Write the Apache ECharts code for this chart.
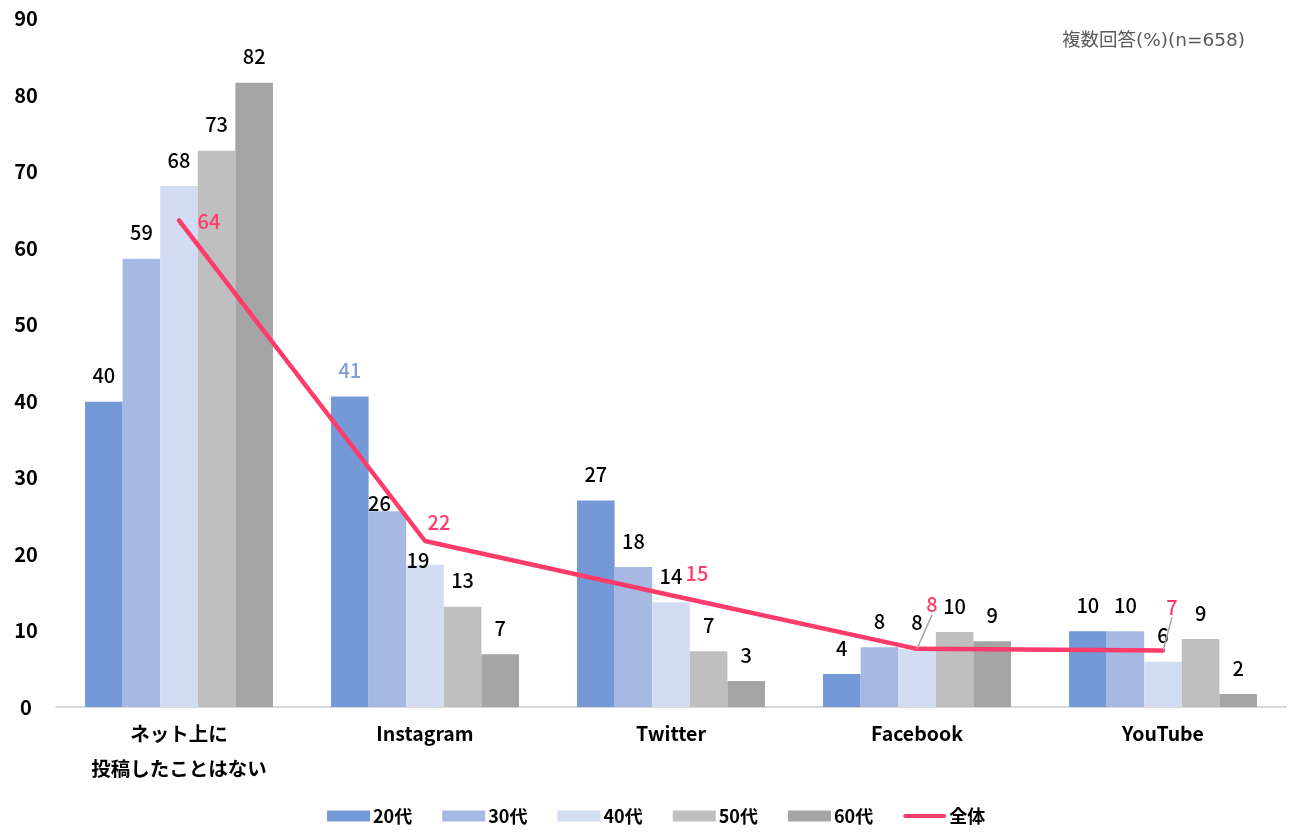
<!DOCTYPE html>
<html>
<head>
<meta charset="utf-8">
<script src="https://cdn.jsdelivr.net/npm/echarts@6/dist/echarts.min.js"></script>
<style>html,body{margin:0;padding:0;background:#fff}#c{width:1293px;height:832px}</style>
</head>
<body>
<div id="c"></div>
<script>
var categories = ['ネット上に\n投稿したことはない', 'Instagram', 'Twitter', 'Facebook', 'YouTube'];
var seriesNames = ['20代', '30代', '40代', '50代', '60代', '全体'];
var s20 = [39.9, 40.6, 27.0, 4.3, 9.9];
var s30 = [58.6, 25.6, 18.3, 7.8, 9.9];
var s40 = [68.1, 18.6, 13.7, 7.6, 5.9];
var s50 = [72.7, 13.1, 7.3, 9.8, 8.9];
var s60 = [81.6, 6.9, 3.4, 8.6, 1.7];
var total = [63.6, 21.7, 14.6, 7.6, 7.4];
var yTicks = [0, 10, 20, 30, 40, 50, 60, 70, 80, 90];

var FONT = '"Noto Sans CJK JP", "Noto Sans", sans-serif';
var colors = ['#7599d6', '#a5b9e3', '#d2dcf2', '#bfbfbf', '#a5a5a5', '#ff3b6b'];
var barData = [s20, s30, s40, s50, s60];

var labelAdjust = {
  '1-1': [-8, 18],
  '2-1': [-7, 22]
};
var lineShift = [[30, 1], [14, -19], [26, -22], [15, -44], [9, -43]];

var series = barData.map(function (arr, si) {
  return {
    name: seriesNames[si],
    type: 'bar',
    barGap: '0%',
    barCategoryGap: '23.6%',
    itemStyle: { color: colors[si] },
    data: arr.map(function (v, i) {
      var item = { value: v };
      var adj = labelAdjust[si + '-' + i];
      var lab = {};
      if (adj) lab.offset = adj;
      if (si === 0 && i === 1) lab.color = '#7f9ddb';
      item.label = lab;
      return item;
    }),
    label: {
      show: true,
      position: 'top',
      distance: 16,
      color: '#000',
      fontSize: 20,
      fontWeight: 500,
      fontFamily: FONT,
      formatter: function (p) { return Math.round(p.value); }
    }
  };
});

series.push({
  name: seriesNames[5],
  type: 'line',
  z: 5,
  symbol: 'circle',
  symbolSize: 0.1,
  showSymbol: true,
  lineStyle: { color: colors[5], width: 4.5, cap: 'round' },
  itemStyle: { color: colors[5] },
  data: total.map(function (v, i) {
    return { value: v, labelLine: { show: i >= 3 } };
  }),
  label: {
    show: true,
    position: 'inside',
    color: colors[5],
    fontSize: 20,
    fontWeight: 500,
    fontFamily: FONT,
    formatter: function (p) { return Math.round(p.value); }
  },
  labelLine: { show: false, lineStyle: { color: '#a6a6a6', width: 1.5 } },
  labelLayout: function (p) {
    var s = lineShift[p.dataIndex];
    return { dx: s[0], dy: s[1] };
  }
});

var chart = echarts.init(document.getElementById('c'));
chart.setOption({
  animation: false,
  backgroundColor: '#fff',
  textStyle: { fontFamily: FONT },
  title: {
    text: '複数回答(%)(n=658)',
    right: 43,
    top: 27,
    textStyle: { color: '#595959', fontSize: 18.5, fontWeight: 'normal', fontFamily: '"DejaVu Sans", "Noto Sans CJK JP", sans-serif' }
  },
  legend: {
    bottom: 2,
    left: 322,
    itemWidth: 43,
    itemHeight: 11,
    itemGap: 30,
    icon: 'rect',
    data: [
      { name: '20代' }, { name: '30代' }, { name: '40代' }, { name: '50代' }, { name: '60代' },
      { name: '全体', icon: 'path://M2,0 L40,0 A2,2 0 0 1 40,4 L2,4 A2,2 0 0 1 2,0 Z', itemStyle: { color: colors[5] } }
    ],
    textStyle: { color: '#000', fontSize: 18, fontWeight: 'bold', fontFamily: FONT, padding: [0, 0, 0, -2] }
  },
  grid: { left: 56, right: 7, top: 18.5, bottom: 125, containLabel: false },
  xAxis: {
    type: 'category',
    data: categories,
    axisLine: { show: true, lineStyle: { color: '#d9d9d9', width: 2 } },
    axisTick: { show: false },
    axisLabel: {
      color: '#000', fontSize: 19.5, fontWeight: 'bold', fontFamily: FONT,
      margin: 9, lineHeight: 35, interval: 0
    }
  },
  yAxis: {
    type: 'value',
    min: yTicks[0],
    max: yTicks[yTicks.length - 1],
    interval: 10,
    splitLine: { show: false },
    axisLine: { show: false },
    axisTick: { show: false },
    axisLabel: {
      color: '#000', fontSize: 20, fontWeight: 'bold', fontFamily: FONT,
      align: 'center', margin: 30
    }
  },
  series: series
});
</script>
</body>
</html>
